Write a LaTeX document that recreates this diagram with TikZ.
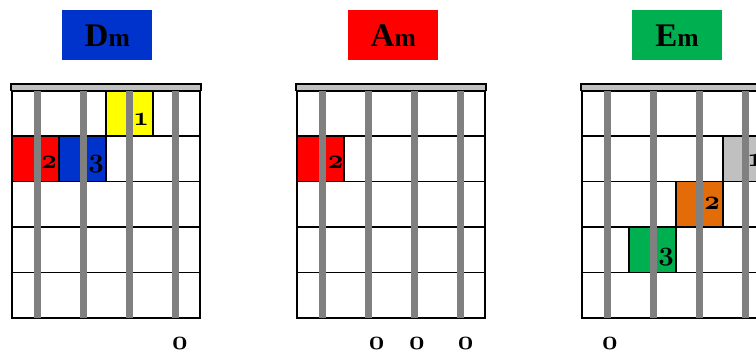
\documentclass[tikz,border=0pt]{standalone}
\usepackage{fontspec}
\setmainfont{Liberation Serif}
\font\fingfont=cmmib10 at 27pt
\definecolor{chordblue}{RGB}{0,51,204}
\definecolor{chordred}{RGB}{255,0,0}
\definecolor{chordgreen}{RGB}{0,176,80}
\definecolor{chordorange}{RGB}{227,108,9}
\definecolor{chordyellow}{RGB}{255,255,0}
\definecolor{nutgray}{RGB}{192,192,192}
\definecolor{stringgray}{RGB}{128,128,128}

\begin{document}
\begin{tikzpicture}[x=1pt,y=-1pt,
  title/.style={minimum width=90pt,minimum height=50pt,inner sep=0pt,
    font=\bfseries},
  finger/.style={draw=black,line width=1.5pt},
  fingnum/.style={anchor=base east,inner sep=0pt,font=\fingfont},
  openstr/.style={anchor=base,inner sep=0pt,font=\fingfont},
  fretline/.style={line width=1.5pt},
  gtrstring/.style={draw=stringgray,line width=7pt},
  nut/.style={fill=nutgray,draw=black,line width=1.5pt}]
\useasboundingbox (0,0) rectangle (756,352);

% chord names
\node[title,fill=chordblue] (dmtitle) at (107.3,35.5)
  {\fontsize{33}{33}\selectfont D\fontsize{25.6}{26}\selectfont m};
\node[title,fill=chordred] (amtitle) at (393.3,35.5)
  {\fontsize{33}{33}\selectfont A\fontsize{25.6}{26}\selectfont m};
\node[title,fill=chordgreen] (emtitle) at (677,35.5)
  {\fontsize{33}{33}\selectfont E\fontsize{25.6}{26}\selectfont m};

% fretboards
\foreach \ox in {12,297,582}
  \fill[white] (\ox,90.7) rectangle ++(188,227);

% fingers
\draw[finger,fill=chordyellow] (106,90.7) rectangle (153,136.1);
\draw[finger,fill=chordred] (12,136.1) rectangle (59,181.5);
\draw[finger,fill=chordblue] (59,136.1) rectangle (106,181.5);
\draw[finger,fill=chordred] (297,136.1) rectangle (344,181.5);
\draw[finger,fill=nutgray] (723,136.1) rectangle (770,181.5);
\draw[finger,fill=chordorange] (676,181.5) rectangle (723,226.9);
\draw[finger,fill=chordgreen] (629,226.9) rectangle (676,272.3);

\foreach \ox in {12,297,582}{
  \foreach \r in {1,...,4}
    \draw[fretline] (\ox,90.7+45.4*\r) -- ++(188,0);
  \draw[line width=2pt] (\ox,90.7) rectangle ++(188,227);
  \foreach \s in {0,...,3}
    \draw[gtrstring] (\ox+25+46.3*\s,90.7) -- ++(0,227);
  \draw[nut] (\ox-1,84) rectangle ++(190,6.7);
}

% finger numbers
\node[fingnum] (dmone) at (149,126) {1};
\node[fingnum] (dmtwo) at (57,168.3) {2};
\node[fingnum] (dmthree) at (104,168) {3};
\node[fingnum] (amtwo) at (343.5,168.3) {2};
\node[fingnum] (emone) at (763,167) {1};
\node[fingnum] (emtwo) at (720,209.3) {2};
\node[fingnum] (emthree) at (674,260.7) {3};

% open strings
\node[openstr] (dmopen) at (180,350) {0};
\node[openstr] (amopena) at (376.7,350) {0};
\node[openstr] (amopenb) at (417,350) {0};
\node[openstr] (amopenc) at (465.7,350) {0};
\node[openstr] (emopen) at (610,350) {0};
\end{tikzpicture}
\end{document}
